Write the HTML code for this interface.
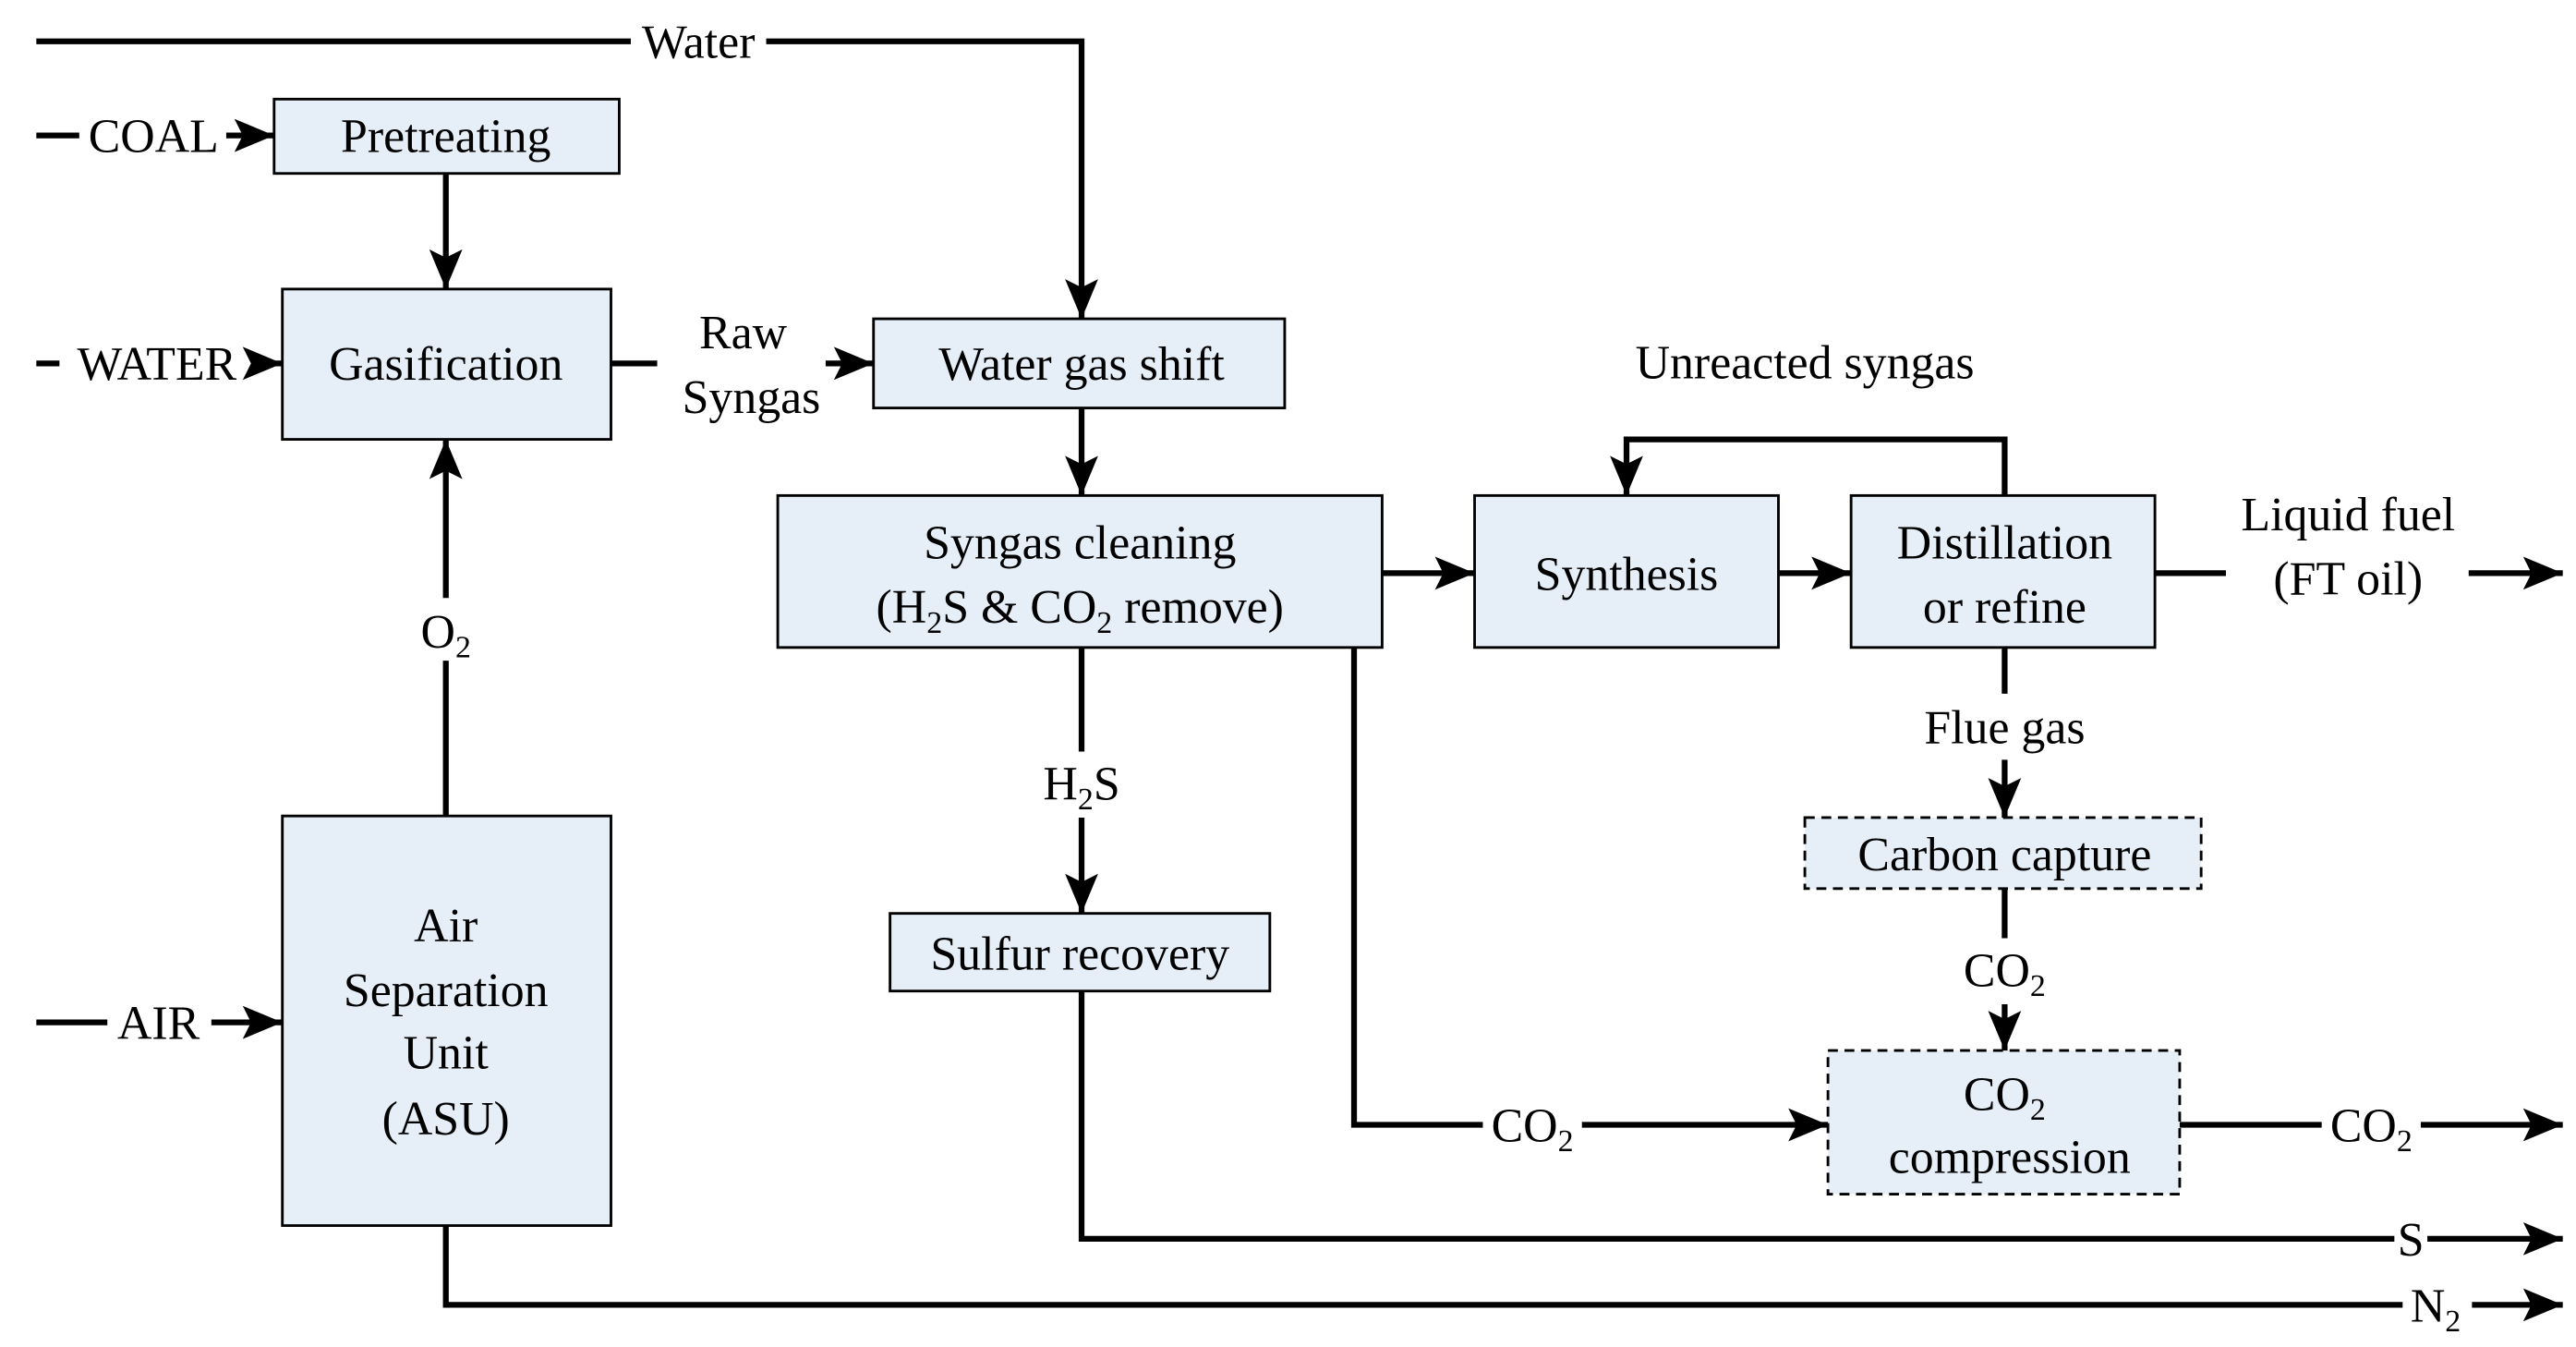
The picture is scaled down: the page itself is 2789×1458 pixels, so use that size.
<!DOCTYPE html>
<html><head><meta charset="utf-8"><style>html,body{margin:0;padding:0;background:#fff}svg{display:block}</style></head><body>
<svg width="2789" height="1458" viewBox="0 0 1560 815.5" xmlns="http://www.w3.org/2000/svg" font-family="'Liberation Serif', serif" font-size="29" text-anchor="middle">
<defs>
<marker id="a" markerUnits="userSpaceOnUse" markerWidth="26" markerHeight="24" refX="24" refY="12" orient="auto"><path d="M0,2 L24,12 L0,22 L5,12 Z" fill="#000"/></marker>
</defs>
<rect width="1560" height="816" fill="#fff"/>
<g fill="#e6eef8" stroke="#000" stroke-width="1.6">
<rect x="166" y="60" width="209" height="45"/>
<rect x="171" y="175" width="199" height="91"/>
<rect x="529" y="193" width="249" height="54"/>
<rect x="471" y="300" width="366" height="92"/>
<rect x="893" y="300" width="184" height="92"/>
<rect x="1121" y="300" width="184" height="92"/>
<rect x="539" y="553" width="230" height="47"/>
<rect x="171" y="494" width="199" height="248"/>
<rect x="1093" y="495" width="240" height="43" stroke-dasharray="6,4"/>
<rect x="1107" y="636" width="213" height="87" stroke-dasharray="6,4"/>
</g>
<g stroke="#000" stroke-width="3.5" fill="none">
<path d="M22,25 H382 M464,25 H655 V193" marker-end="url(#a)"/>
<path d="M22,82 H48"/>
<path d="M137,82 H166" marker-end="url(#a)"/>
<path d="M270,105 V175" marker-end="url(#a)"/>
<path d="M22,220 H36"/>
<path d="M153,220 H171" marker-end="url(#a)"/>
<path d="M370,220 H398"/>
<path d="M500,220 H529" marker-end="url(#a)"/>
<path d="M655,247 V300" marker-end="url(#a)"/>
<path d="M837,347 H893" marker-end="url(#a)"/>
<path d="M1077,347 H1121" marker-end="url(#a)"/>
<path d="M1214,300 V266 H985 V300" marker-end="url(#a)"/>
<path d="M1305,347 H1348"/>
<path d="M1495,347 H1552" marker-end="url(#a)"/>
<path d="M1214,392 V420"/>
<path d="M1214,460 V495" marker-end="url(#a)"/>
<path d="M1214,538 V568"/>
<path d="M1214,608 V636" marker-end="url(#a)"/>
<path d="M820,392 V681 H898"/>
<path d="M958,681 H1107" marker-end="url(#a)"/>
<path d="M1320,681 H1406"/>
<path d="M1466,681 H1552" marker-end="url(#a)"/>
<path d="M655,392 V455"/>
<path d="M655,495 V553" marker-end="url(#a)"/>
<path d="M655,600 V750 H1450"/>
<path d="M1470,750 H1552" marker-end="url(#a)"/>
<path d="M270,494 V400"/>
<path d="M270,362 V266" marker-end="url(#a)"/>
<path d="M22,619 H65"/>
<path d="M128,619 H171" marker-end="url(#a)"/>
<path d="M270,742 V790 H1455"/>
<path d="M1497,790 H1552" marker-end="url(#a)"/>
</g>
<g fill="#000">
<text x="423" y="35">Water</text>
<text x="93" y="92">COAL</text>
<text x="270" y="92">Pretreating</text>
<text x="95" y="230">WATER</text>
<text x="270" y="230">Gasification</text>
<text x="450" y="211">Raw</text>
<text x="455" y="250">Syngas</text>
<text x="655" y="230">Water gas shift</text>
<text x="654" y="338">Syngas cleaning</text>
<text x="654" y="377">(H<tspan font-size="19" dy="6">2</tspan><tspan dy="-6">S &amp; CO</tspan><tspan font-size="19" dy="6">2</tspan><tspan dy="-6">  remove)</tspan></text>
<text x="985" y="357">Synthesis</text>
<text x="1214" y="338">Distillation</text>
<text x="1214" y="377">or refine</text>
<text x="1093" y="229">Unreacted syngas</text>
<text x="1422" y="321">Liquid fuel</text>
<text x="1422" y="360">(FT oil)</text>
<text x="1214" y="450">Flue gas</text>
<text x="1214" y="527">Carbon capture</text>
<text x="1214" y="597">CO<tspan font-size="19" dy="6">2</tspan></text>
<text x="1214" y="672">CO<tspan font-size="19" dy="6">2</tspan></text>
<text x="1217" y="710">compression</text>
<text x="928" y="691">CO<tspan font-size="19" dy="6">2</tspan></text>
<text x="1436" y="691">CO<tspan font-size="19" dy="6">2</tspan></text>
<text x="655" y="484">H<tspan font-size="19" dy="6">2</tspan><tspan dy="-6">S</tspan></text>
<text x="654" y="587">Sulfur recovery</text>
<text x="1460" y="760">S</text>
<text x="1475" y="800">N<tspan font-size="19" dy="6">2</tspan></text>
<text x="270" y="570">Air</text>
<text x="270" y="609">Separation</text>
<text x="270" y="647">Unit</text>
<text x="270" y="687">(ASU)</text>
<text x="96" y="629">AIR</text>
<text x="270" y="392">O<tspan font-size="19" dy="6">2</tspan></text>
</g>
</svg>
</body></html>
